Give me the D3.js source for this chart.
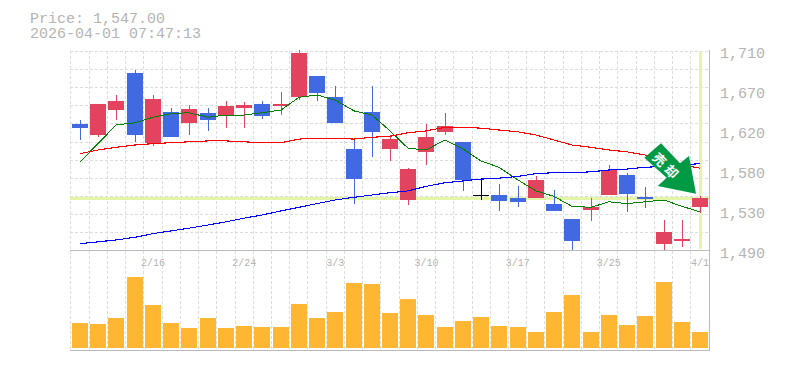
<!DOCTYPE html>
<html lang="en">
    <head>
        <meta charset="utf-8">
        <title>Price chart</title>
        <script src="https://cdn.jsdelivr.net/npm/d3@7"></script>
        <style>
            html, body { margin: 0; padding: 0; background: #fff; }
            svg { display: block; }
            text { font-family: "Liberation Mono", monospace; fill: #b4b4b4; }
        </style>
    </head>
    <body>
        <div class="chart"></div>
        <script>
            // trading days
            var dates = ["2/9","2/10","2/12","2/13","2/16","2/17","2/18","2/19","2/20","2/24","2/25","2/26","2/27","3/2","3/3","3/4","3/5","3/6","3/9","3/10","3/11","3/12","3/13","3/16","3/17","3/18","3/19","3/23","3/24","3/25","3/26","3/27","3/30","3/31","4/1"];
            var dateLabels = ["2/16","2/24","3/3","3/10","3/17","3/25","4/1"];
            var opens = [1628.6,1616.5,1644,1685,1608,1642,1630,1641,1637,1646,1651,1648,1658,1681,1658,1601,1642,1601,1545,1598,1620,1609,1550,1550.5,1547,1547,1541,1524,1534,1550.5,1572.5,1548,1497,1500,1537];
            var closes = [1624,1651,1654,1616.5,1656,1614,1645,1633,1648,1649.5,1637,1651,1707,1663,1630,1568,1620,1612,1579,1614,1626,1567,1550,1544,1543,1567,1533,1500,1537,1578,1552,1546,1510,1502,1547];
            var highs = [1633,1651,1660.5,1688,1660.5,1646,1649.5,1646,1654,1653,1654,1664,1710,1681,1670,1612,1670,1616.5,1580,1629,1641,1609,1569,1563,1560,1571,1556,1524,1547,1583.5,1575,1559,1523,1523,1549];
            var lows = [1611,1614,1633,1609,1604,1614,1616.5,1621,1624,1624,1634,1638.5,1655,1654,1630,1541,1592,1588,1539.5,1583.5,1616.5,1555,1545,1533,1537,1547,1533,1490,1522,1550.5,1532,1536,1490,1493,1531];
            var volumes = [25000,24000,30000,71000,43000,25000,20000,30000,20000,22000,21000,21000,44000,30000,36000,65000,64000,35000,49000,33000,21000,27000,31000,22000,21000,16000,36000,53000,16000,33000,23000,32000,66000,26000,16000];
            // moving averages
            var maShort = [1587,1607,1627.5,1630,1636,1640,1641,1636,1638.5,1638.5,1641,1644,1658,1660.5,1655,1643,1638.5,1621,1602,1600,1611,1601,1588,1581,1567,1555,1549,1538,1537,1543,1541,1543,1545,1538,1532];
            var maMid = [1596,1600,1603,1605.5,1607,1608,1609,1610,1610,1609,1608,1608,1612,1613,1613,1612,1614,1615,1619,1621,1625,1625,1624,1622,1620,1616.5,1611,1605.5,1603,1600,1598,1594.5,1589,1583.5,1580];
            var maLong = [1497,1499,1501,1504,1508,1511,1514,1517.5,1521,1525,1528.5,1533,1537,1541,1545,1548,1550.5,1553,1555,1560,1564,1566,1568,1569,1571,1574,1575,1575,1576,1578,1579,1581,1582,1583.5,1585];
            var priceTicks = [1710,1666,1622,1578,1534,1490];
            var lastPrice = 1547;
            var stamp = "2026-04-01 07:47:13";

            var w = 785;
            var h = 370;
            var svg = d3.select("div.chart")
                        .append("svg")
                        .attr("width", w)
                        .attr("height", h);

            // scales
            var xScale = d3.scaleBand()
                           .domain(dates)
                           .range([70.9, 709.1]);
            var yScale = d3.scaleLinear()
                           .domain([1490, 1710])
                           .range([250, 50]);
            var volScale = d3.scaleLinear()
                             .domain([0, 100000])
                             .range([348, 248]);
            var mid = function(d){ return Math.round(xScale(d) + xScale.bandwidth() / 2); };

            // grid
            var grid = svg.append("g").attr("shape-rendering", "crispEdges");
            grid.selectAll("line.v")
                .data(dates)
                .enter()
                .append("line")
                .attr("class", "v")
                .attr("x1", function(d){ return Math.floor(xScale(d)) + 0.5; })
                .attr("x2", function(d){ return Math.floor(xScale(d)) + 0.5; })
                .attr("y1", 51)
                .attr("y2", 350)
                .attr("stroke", "#ddd")
                .attr("stroke-dasharray", "3,2");
            grid.selectAll("line.h")
                .data(d3.range(11))
                .enter()
                .append("line")
                .attr("class", "h")
                .attr("x1", 70)
                .attr("x2", 709)
                .attr("y1", function(d){ return Math.round(51 + d * 18.1) + 0.5; })
                .attr("y2", function(d){ return Math.round(51 + d * 18.1) + 0.5; })
                .attr("stroke", "#ddd")
                .attr("stroke-dasharray", "3,2");

            // current price and latest day highlight
            grid.append("rect")
                .attr("x", 70)
                .attr("y", Math.floor(yScale(lastPrice)) - 1)
                .attr("width", 639)
                .attr("height", 3)
                .attr("fill", "#e4f5a9");
            grid.append("rect")
                .attr("x", mid(dates[dates.length - 1]) - 1)
                .attr("y", 51)
                .attr("width", 3)
                .attr("height", 198)
                .attr("fill", "#e4f5a9");

            // panel frame
            var frame = svg.append("g")
                           .attr("shape-rendering", "crispEdges")
                           .attr("stroke", "#bbb");
            frame.append("line").attr("x1", 70).attr("x2", 710).attr("y1", 250.5).attr("y2", 250.5);
            frame.append("line").attr("x1", 70).attr("x2", 710).attr("y1", 350.5).attr("y2", 350.5);
            frame.append("line").attr("x1", 709.5).attr("x2", 709.5).attr("y1", 50).attr("y2", 351);

            // volume
            svg.append("g")
               .attr("shape-rendering", "crispEdges")
               .selectAll("rect")
               .data(volumes)
               .enter()
               .append("rect")
               .attr("x", function(d, i){ return mid(dates[i]) - 8; })
               .attr("y", function(d){ return volScale(d); })
               .attr("width", 16)
               .attr("height", function(d){ return 348 - volScale(d); })
               .attr("fill", "#ffb733");

            // candles
            var color = function(i){
                if (closes[i] == opens[i]) return "#000";
                return closes[i] > opens[i] ? "#e2445f" : "#4169e1";
            };
            var candles = svg.append("g")
                             .attr("shape-rendering", "crispEdges")
                             .selectAll("g")
                             .data(dates)
                             .enter()
                             .append("g");
            candles.append("line")
                   .attr("x1", function(d){ return mid(d) + 0.5; })
                   .attr("x2", function(d){ return mid(d) + 0.5; })
                   .attr("y1", function(d, i){ return yScale(highs[i]); })
                   .attr("y2", function(d, i){ return yScale(lows[i]); })
                   .attr("stroke", function(d, i){ return color(i); });
            candles.append("rect")
                   .attr("x", function(d){ return mid(d) - 8; })
                   .attr("y", function(d, i){ return yScale(Math.max(opens[i], closes[i])); })
                   .attr("width", 16)
                   .attr("height", function(d, i){ return Math.max(1, Math.abs(yScale(opens[i]) - yScale(closes[i]))); })
                   .attr("fill", function(d, i){ return color(i); });

            // moving average lines
            var line = d3.line()
                         .x(function(d, i){ return mid(dates[i]); })
                         .y(function(d){ return yScale(d); });
            [[maShort, "#008000", 1], [maMid, "#ff0000", 1.1], [maLong, "#0000ff", 1.1]].forEach(function(s){
                svg.append("path")
                   .attr("d", line(s[0]))
                   .attr("fill", "none")
                   .attr("stroke", s[1])
                   .attr("stroke-width", s[2])
                   .attr("shape-rendering", "crispEdges");
            });

            // axis labels
            var yAxis = d3.axisRight(yScale)
                          .tickValues(priceTicks)
                          .tickSize(0)
                          .tickPadding(0)
                          .tickFormat(function(d){ return d3.format(",")(Math.round(d / 10) * 10); });
            var yG = svg.append("g")
                        .attr("transform", "translate(720, 3)")
                        .call(yAxis);
            yG.select(".domain").remove();
            yG.selectAll("text").style("font-size", "15px").style("font-family", "Liberation Mono");

            var xG = svg.append("g")
                        .attr("transform", "translate(0, 259)")
                        .call(d3.axisBottom(xScale)
                                .tickValues(dateLabels)
                                .tickSize(0)
                                .tickPadding(0));
            xG.select(".domain").remove();
            xG.selectAll("text").style("font-size", "10px").style("font-family", "Liberation Mono");

            // heading
            svg.append("text")
               .attr("x", 30)
               .attr("y", 23)
               .style("font-size", "15px")
               .text("Price: " + d3.format(",.2f")(lastPrice));
            svg.append("text")
               .attr("x", 30)
               .attr("y", 38)
               .style("font-size", "15px")
               .text(stamp);

            // sell arrow
            var arrow = svg.append("g");
            arrow.append("path")
                 .attr("d", "M661,143.3L680,163.3L689,156L696,193.7L657.7,186L666.7,177.7L644.3,157.7Z")
                 .attr("fill", "#009944");
            arrow.append("text")
                 .attr("transform", "translate(665.3,165.8) rotate(45)")
                 .attr("text-anchor", "middle")
                 .attr("x", 2)
                 .attr("dy", "0.35em")
                 .style("font-family", "Noto Sans CJK JP")
                 .style("font-size", "13px")
                 .style("font-weight", "bold")
                 .style("letter-spacing", "4px")
                 .style("fill", "#fff")
                 .text("売却");
        </script>
    </body>
</html>
